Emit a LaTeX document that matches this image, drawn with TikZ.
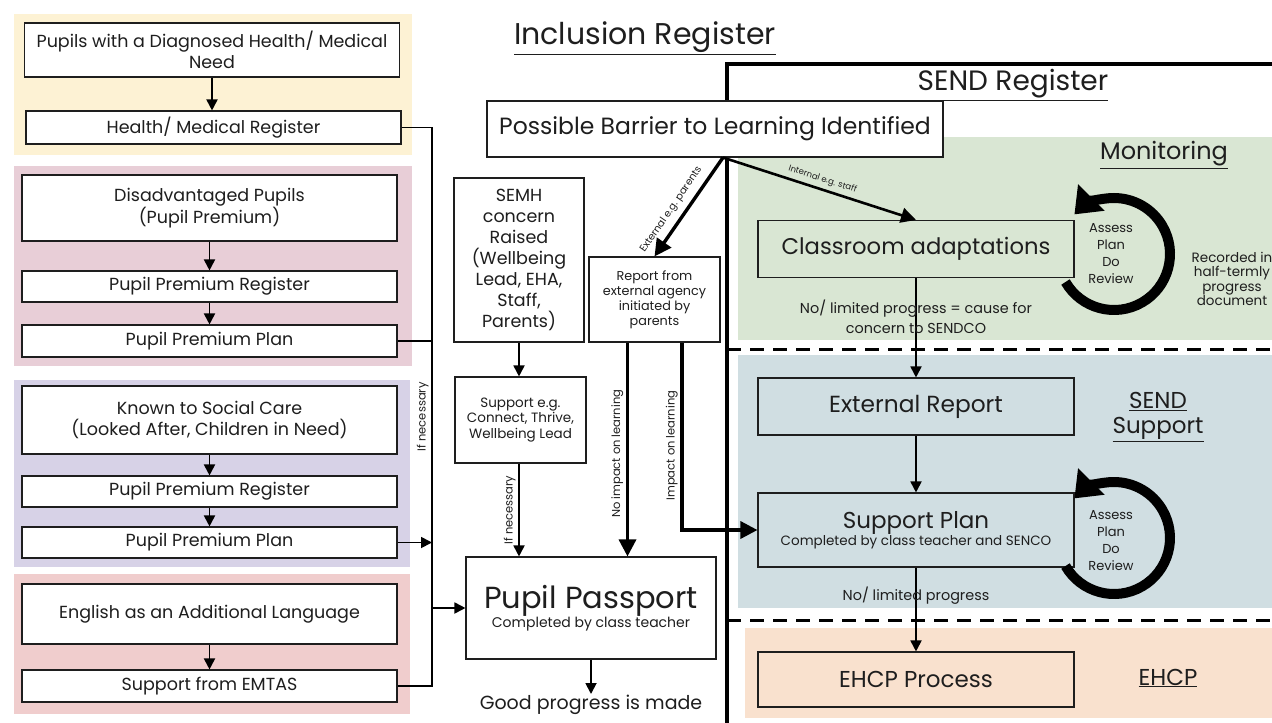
\documentclass[tikz,border=0pt]{standalone}
\usepackage{fontspec}
\setmainfont{Poppins}
\usetikzlibrary{arrows.meta,calc}
\definecolor{ybg}{RGB}{253,242,212}
\definecolor{pbg}{RGB}{232,206,215}
\definecolor{lbg}{RGB}{215,210,231}
\definecolor{rbg}{RGB}{240,205,205}
\definecolor{gbg}{RGB}{217,230,211}
\definecolor{bbg}{RGB}{208,222,226}
\definecolor{obg}{RGB}{249,225,206}
\definecolor{ink}{RGB}{30,30,30}
\newcommand\fsz[2]{\fontsize{#1}{#2}\selectfont}
\begin{document}
\begin{tikzpicture}[x=1pt,y=1pt,
  bx/.style={draw=ink,fill=white,line width=1.1pt,align=center,inner sep=1pt,text=ink},
  rbox/.style={bx,fill=none,minimum width=316pt},
  lbox/.style={bx,minimum width=375pt,font=\fsz{17.5}{21}},
  conn/.style={draw=black,line width=1.8pt},
  arr/.style={conn,-{Triangle[length=11pt,width=11pt]}},
  marr/.style={draw=black,line width=2.6pt,-{Triangle[length=15pt,width=15pt]}},
  thk/.style={draw=black,line width=3.4pt,-{Triangle[length=17pt,width=17pt]}},
  cyc/.style={draw=black,line width=10pt,-{Triangle[length=24pt,width=36pt]}},
  lbl/.style={text=ink,inner sep=1pt,align=center},
  vlbl/.style={lbl,rotate=90,anchor=south,inner sep=2.5pt}]
\useasboundingbox (0,0) rectangle (1272,-723);
\fill[white] (0,0) rectangle (1272,-723);
% background bands
\fill[ybg] (14,-14) rectangle (412,-155);
\fill[pbg] (14,-166) rectangle (412,-366);
\fill[lbg] (14,-380) rectangle (410,-567);
\fill[rbg] (14,-574) rectangle (410,-714);
\fill[gbg] (738,-137) rectangle (1272,-340);
\fill[bbg] (738,-355) rectangle (1272,-608);
\fill[obg] (745,-628) rectangle (1272,-718);
% SEND register frame and dividers
\draw[line width=3.5pt] (1272,-64) -- (727,-64) -- (727,-723);
\draw[line width=3pt,dash pattern=on 14pt off 9pt] (727,-349) -- (1272,-349);
\draw[line width=3pt,dash pattern=on 14pt off 9pt] (727,-620) -- (1272,-620);

% titles
\node[lbl,font=\fsz{30}{34}] (title) at (645,-38) {\underline{Inclusion Register}};
\node[lbl,font=\fsz{28}{32}] (sendt) at (1013,-85) {\underline{SEND Register}};
\node[lbl,font=\fsz{24}{28}] (monit) at (1164,-155) {\underline{Monitoring}};
\node[lbl,font=\fsz{23}{25}] (sendsup) at (1158,-417) {\underline{SEND}\\\underline{Support}};
\node[lbl,font=\fsz{23}{26}] (ehcpt) at (1168,-678) {\underline{EHCP}};

% left column
\node[lbox,minimum height=54pt] (need) at (212,-50) {Pupils with a Diagnosed Health/ Medical\\Need};
\node[lbox,minimum height=33pt] (hreg) at (213.5,-127.5) {Health/ Medical Register};
\node[lbox,minimum height=66pt] (dis) at (209.5,-208) {Disadvantaged Pupils\\(Pupil Premium)};
\node[lbox,minimum height=31pt] (ppr1) at (209.5,-286.5) {Pupil Premium Register};
\node[lbox,minimum height=32pt] (ppp1) at (209.5,-341) {Pupil Premium Plan};
\node[lbox,minimum height=68pt] (ksc) at (209.5,-420) {Known to Social Care\\(Looked After, Children in Need)};
\node[lbox,minimum height=31pt] (ppr2) at (209.5,-491.5) {Pupil Premium Register};
\node[lbox,minimum height=31pt] (ppp2) at (209.5,-542.5) {Pupil Premium Plan};
\node[lbox,minimum height=60pt] (eal) at (209.5,-614) {English as an Additional Language};
\node[lbox,minimum height=32pt] (emtas) at (209.5,-686) {Support from EMTAS};

\draw[arr] (need.south) -- (need.south |- hreg.north);
\draw[arr] (dis.south) -- (ppr1.north);
\draw[arr] (ppr1.south) -- (ppp1.north);
\draw[arr] (ksc.south) -- (ppr2.north);
\draw[arr] (ppr2.south) -- (ppp2.north);
\draw[arr] (eal.south) -- (emtas.north);

% centre column
\node[bx,minimum width=456pt,minimum height=56pt,font=\fsz{23.5}{28}] (barrier) at (715,-129) {Possible Barrier to Learning Identified};
\node[bx,minimum width=130pt,minimum height=164pt,font=\fsz{17.5}{21}] (semh) at (519,-260) {SEMH\\concern\\Raised\\(Wellbeing\\Lead, EHA,\\Staff,\\Parents)};
\node[bx,minimum width=131pt,minimum height=86pt,font=\fsz{13.5}{15.5}] (supp) at (520.5,-420) {Support e.g.\\Connect, Thrive,\\Wellbeing Lead};
\node[bx,minimum width=131pt,minimum height=85pt,font=\fsz{12.8}{15}] (report) at (654.5,-299.5) {Report from\\external agency\\initiated by\\parents};
\node[bx,minimum width=250pt,minimum height=102pt] (pass) at (591,-608) {\fsz{30.5}{36}Pupil Passport\\\fsz{14}{17}Completed by class teacher};
\node[lbl,font=\fsz{19}{23}] (good) at (591,-705) {Good progress is made};
\draw[arr] (pass.south) -- (good.north);

% bus from left column
\coordinate (bt) at (432,-127.5);
\coordinate (bb) at (432,-686);
\draw[conn] (hreg.east) -- (bt) -- node[pos=0.518,vlbl,font=\fsz{11.5}{13}] (ifn1) {If necessary} (bb) -- (emtas.east);
\draw[conn] (ppp1.east) -- (ppp1.east -| bt);
\draw[arr] (ppp2.east) -- (ppp2.east -| bt);
\draw[arr] (bt |- pass.west) -- (pass.west);

% right column boxes
\node[rbox,minimum height=57pt,font=\fsz{22.7}{28}] (class) at (916,-249) {Classroom adaptations};
\node[rbox,minimum height=57pt,font=\fsz{23.3}{28}] (ext) at (916,-406.5) {External Report};
\node[rbox,minimum height=74pt] (splan) at (916,-530) {\fsz{23}{30}Support Plan\\\fsz{13.5}{16}Completed by class teacher and SENCO};
\node[rbox,minimum height=55pt,font=\fsz{23}{28}] (ehcp) at (916,-679.5) {EHCP Process};

% connectors from barrier
\coordinate (bp) at ($(barrier.south)+(8,0)$);
\draw[thk] (bp) -- (report.north) node[pos=0.6,rotate=55.6,anchor=south,lbl,inner sep=6pt,font=\fsz{10}{12}] (extl) {External e.g. parents};
\draw[marr] (bp) -- (class.north) node[pos=0.5,sloped,above=3pt,lbl,font=\fsz{8.5}{10}] (intl) {Internal e.g. staff};

\draw[arr] (semh.south) -- (semh.south |- supp.north);
\draw[arr] (semh.south |- supp.south) -- node[midway,vlbl,font=\fsz{11.5}{13}] (ifn2) {If necessary} (semh.south |- pass.north);

\coordinate (rl) at ($(report.south)+(-27,0)$);
\coordinate (rr) at ($(report.south)+(27.5,0)$);
\draw[thk] (rl) -- node[pos=0.52,vlbl,font=\fsz{11.5}{13}] (noimp) {No impact on learning} (rl |- pass.north);
\draw[thk] (rr) -- node[pos=0.55,vlbl,font=\fsz{11.5}{13}] (imp) {Impact on learning} (rr |- splan.west) -- (splan.west);

% right column flow
\draw[arr] (class.south) -- (ext.north);
\node[lbl,font=\fsz{14.4}{20}] (nolim1) at (916,-317) {No/ limited progress = cause for\\concern to SENDCO};
\draw[arr] (ext.south) -- (splan.north);
\draw[arr] (splan.south) -- (ehcp.north);
\node[lbl,font=\fsz{14.4}{18}] (nolim2) at (916,-596) {No/ limited progress};

% review cycles
\coordinate (cy1) at (1114,-254);
\draw[cyc] ($(cy1)+(-150:56pt)$) arc[start angle=-150,end angle=135,radius=56pt];
\node[lbl,font=\fsz{13}{17}] (apdr1) at (1111,-254) {Assess\\Plan\\Do\\Review};
\node[lbl,font=\fsz{13.5}{14.5}] (rec) at (1232,-279) {Recorded in\\half-termly\\progress\\document};
\coordinate (cy2) at (1114,-538);
\draw[cyc] ($(cy2)+(-150:56pt)$) arc[start angle=-150,end angle=135,radius=56pt];
\node[lbl,font=\fsz{13}{17}] (apdr2) at (1111,-541) {Assess\\Plan\\Do\\Review};
\end{tikzpicture}
\end{document}
